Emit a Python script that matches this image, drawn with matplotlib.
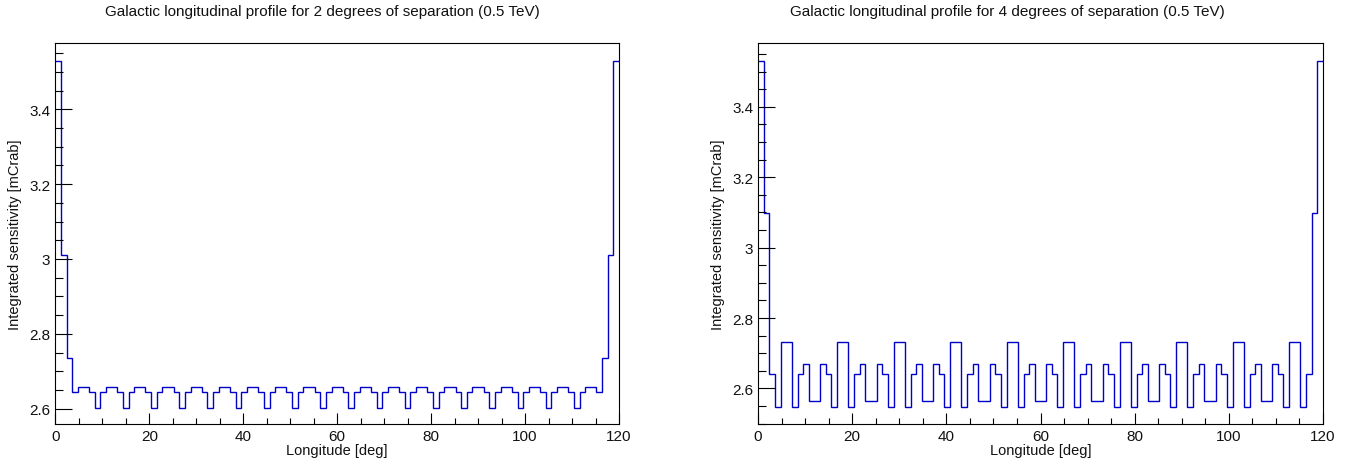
import numpy as np
import matplotlib
matplotlib.use("Agg")
import matplotlib.pyplot as plt
from matplotlib.ticker import MultipleLocator, FormatStrFormatter

plt.rcParams['font.family'] = ['Liberation Sans', 'DejaVu Sans']

# ---------------- data ----------------
titles = ["Galactic longitudinal profile for 2 degrees of separation (0.5 TeV)",
          "Galactic longitudinal profile for 4 degrees of separation (0.5 TeV)"]
x_label = "Longitude [deg]"
y_label = "Integrated sensitivity [mCrab]"
x_range = (0, 120)
n_bins = 100

sens_2deg = [
    3.529, 3.011, 2.736,
    2.644, 2.659, 2.659, 2.644, 2.603, 2.644, 2.659, 2.659, 2.644, 2.603,
    2.644, 2.659, 2.659, 2.644, 2.603, 2.644, 2.659, 2.659, 2.644, 2.603,
    2.644, 2.659, 2.659, 2.644, 2.603, 2.644, 2.659, 2.659, 2.644, 2.603,
    2.644, 2.659, 2.659, 2.644, 2.603, 2.644, 2.659, 2.659, 2.644, 2.603,
    2.644, 2.659, 2.659, 2.644, 2.603, 2.644, 2.659, 2.659, 2.644, 2.603,
    2.644, 2.659, 2.659, 2.644, 2.603, 2.644, 2.659, 2.659, 2.644, 2.603,
    2.644, 2.659, 2.659, 2.644, 2.603, 2.644, 2.659, 2.659, 2.644, 2.603,
    2.644, 2.659, 2.659, 2.644, 2.603, 2.644, 2.659, 2.659, 2.644, 2.603,
    2.644, 2.659, 2.659, 2.644, 2.603, 2.644, 2.659, 2.659, 2.644, 2.603,
    2.644, 2.659, 2.659, 2.644,
    2.736, 3.011, 3.529,
]

sens_4deg = [
    3.530, 3.097,
    2.642, 2.546, 2.731, 2.731, 2.546, 2.642, 2.668, 2.565, 2.565, 2.668,
    2.642, 2.546, 2.731, 2.731, 2.546, 2.642, 2.668, 2.565, 2.565, 2.668,
    2.642, 2.546, 2.731, 2.731, 2.546, 2.642, 2.668, 2.565, 2.565, 2.668,
    2.642, 2.546, 2.731, 2.731, 2.546, 2.642, 2.668, 2.565, 2.565, 2.668,
    2.642, 2.546, 2.731, 2.731, 2.546, 2.642, 2.668, 2.565, 2.565, 2.668,
    2.642, 2.546, 2.731, 2.731, 2.546, 2.642, 2.668, 2.565, 2.565, 2.668,
    2.642, 2.546, 2.731, 2.731, 2.546, 2.642, 2.668, 2.565, 2.565, 2.668,
    2.642, 2.546, 2.731, 2.731, 2.546, 2.642, 2.668, 2.565, 2.565, 2.668,
    2.642, 2.546, 2.731, 2.731, 2.546, 2.642, 2.668, 2.565, 2.565, 2.668,
    2.642, 2.546, 2.731, 2.731, 2.546, 2.642,
    3.097, 3.530,
]

series = [sens_2deg, sens_4deg]
y_limits = [(2.559, 3.577), (2.499, 3.581)]

# ---------------- figure ----------------
W, H = 1349, 464
fig = plt.figure(figsize=(W / 100, H / 100), dpi=100)

axes_px = [(55.3, 619.0), (758.0, 1323.0)]
top_px, bot_px = 44.0, 425.0
title_x_px = [322, 1007]

edges = np.linspace(x_range[0], x_range[1], n_bins + 1)
line_color = '#0000c8'
text_color = '#111111'

for i, vals in enumerate(series):
    l, r = axes_px[i]
    ax = fig.add_axes([l / W, (H - bot_px) / H, (r - l) / W, (bot_px - top_px) / H])
    ax.stairs(vals, edges, color=line_color, linewidth=1.0, baseline=None)
    ax.set_xlim(*x_range)
    ax.set_ylim(*y_limits[i])

    ax.xaxis.set_major_locator(MultipleLocator(20))
    ax.xaxis.set_minor_locator(MultipleLocator(5))
    ax.yaxis.set_major_locator(MultipleLocator(0.2))
    ax.yaxis.set_minor_locator(MultipleLocator(0.05))
    ax.yaxis.set_major_formatter(FormatStrFormatter('%g'))
    ax.xaxis.set_major_formatter(FormatStrFormatter('%g'))

    ax.tick_params(axis='y', which='major', direction='in', length=12.2, width=0.8,
                   labelsize=11, pad=3.5, colors='black', labelcolor=text_color)
    ax.tick_params(axis='y', which='minor', direction='in', length=5.8, width=0.8)
    ax.tick_params(axis='x', which='major', direction='in', length=8, width=0.8,
                   labelsize=11, pad=3.5, labelcolor=text_color)
    ax.tick_params(axis='x', which='minor', direction='in', length=4.3, width=0.8)
    ax.tick_params(top=False, right=False, which='both')

    for sp in ax.spines.values():
        sp.set_linewidth(0.8)
        sp.set_color('black')

    ax.set_xlabel(x_label, fontsize=10.5, labelpad=0, color=text_color)
    ax.set_ylabel(y_label, fontsize=10.5, labelpad=5, color=text_color)

    fig.text(title_x_px[i] / W, 1 - 12 / H, titles[i], ha='center', va='center',
             fontsize=11, color=text_color)

fig.savefig("out.png", dpi=100)
